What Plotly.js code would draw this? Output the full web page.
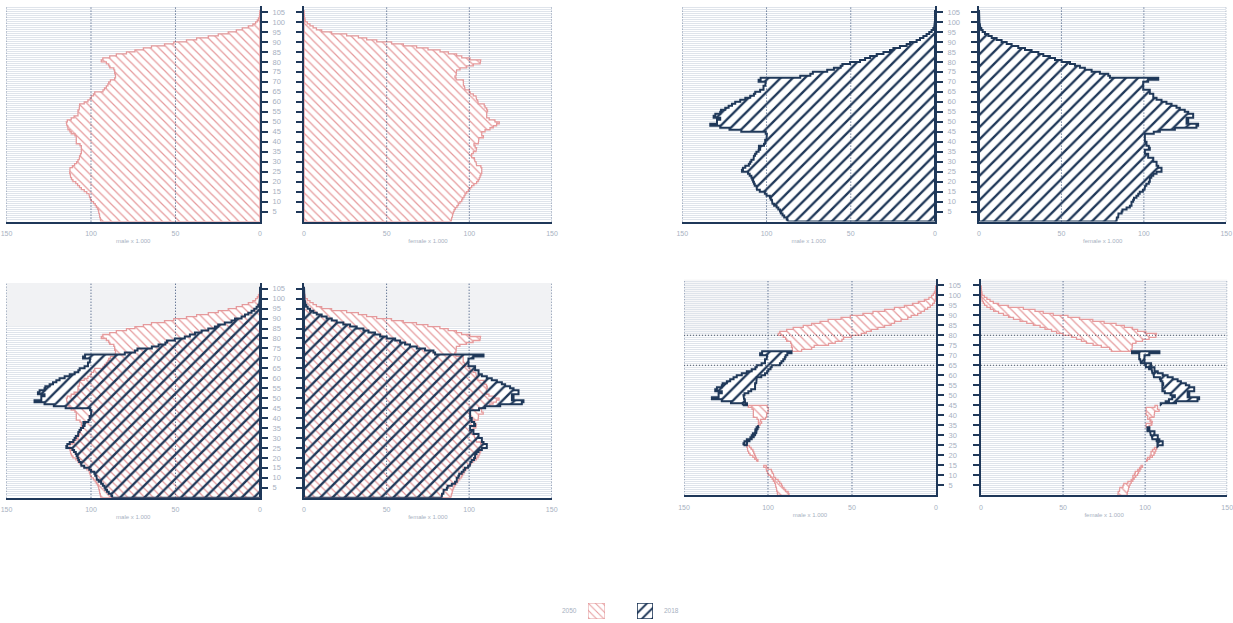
<!DOCTYPE html>
<html><head><meta charset="utf-8">
<script src="https://cdn.plot.ly/plotly-3.0.1.min.js"></script>
<style>html,body{margin:0;padding:0;background:#fff;}#chart{width:1233px;height:623px;}</style>
</head><body><div id="chart"></div>
<script>
// ---- data (population x 1.000 by single year of age) ----
const ages = Array.from({length: 106}, (_, i) => i); // ages 0..105
const male2050 = [94.3,94.5,94.8,95.0,95.3,95.6,96.0,96.8,97.5,98.5,99.8,100.3,100.8,101.2,102.5,104.0,105.7,106.8,107.9,109.0,
  110.7,111.5,112.0,112.3,112.6,112.6,112.4,111.0,109.7,108.5,107.7,107.0,106.7,106.2,105.7,105.7,105.5,105.7,106.5,108.7,
  108.7,108.5,108.7,109.5,111.7,112.5,113.6,113.8,114.2,114.6,114.0,111.7,110.0,107.7,107.7,107.7,107.0,106.7,106.7,104.0,
  101.8,100.5,99.8,98.5,97.8,92.9,92.0,90.9,90.0,89.5,88.5,86.0,85.5,85.5,86.0,86.0,86.5,88.9,89.5,90.9,
  93.9,93.0,88.9,85.0,79.0,74.0,69.0,64.2,56.5,51.0,43.5,37.5,30.6,24.7,18.8,14.0,10.5,6.9,4.2,2.6,
  1.6,0.9,0.4,0.2,0.1,0];
const female2050 = [89.0,89.3,89.6,90.0,90.3,90.8,91.5,92.5,93.3,94.3,95.4,96.0,96.8,97.4,98.4,99.4,100.4,101.4,102.8,104.4,
  105.4,106.0,106.5,107.0,107.5,107.5,107.5,107.0,104.4,104.0,103.4,103.0,101.4,101.4,102.4,104.0,104.4,103.5,102.8,105.4,
  105.4,105.8,108.5,107.5,107.5,109.5,112.5,114.5,116.5,118.1,115.5,112.0,110.5,110.5,110.5,111.0,110.5,109.5,109.0,105.4,
  105.0,104.4,104.0,102.4,100.5,100.0,97.4,97.0,96.4,96.4,96.4,92.0,91.3,92.0,92.0,92.3,94.4,98.4,102.4,106.5,
  106.9,100.4,95.4,92.3,87.3,82.3,75.0,68.1,60.1,53.0,44.0,37.9,32.9,25.8,16.7,10.7,7.5,5.5,3.6,2.0,
  0.8,0.5,0.3,0.2,0.1,0];
const male2018 = [87.5,88.0,89.5,90.5,91.5,92.0,93.0,94.0,95.5,96.5,96.8,97.5,98.0,100.0,101.0,104.0,105.7,106.0,107.0,107.5,
  108.0,108.5,109.0,110.0,111.0,114.6,114.0,112.6,110.5,109.7,109.0,107.7,107.5,106.8,106.0,104.7,103.8,104.5,101.5,100.8,
  100.8,100.0,99.8,99.8,100.5,115.0,122.0,127.5,133.4,129.4,129.4,127.5,131.4,130.4,127.5,127.0,124.5,122.5,120.5,118.6,
  115.6,112.6,109.7,107.5,106.7,103.8,101.8,101.8,100.8,100.5,104.7,103.5,80.0,74.0,72.5,64.0,60.0,56.0,55.0,50.4,
  44.5,41.5,38.5,34.6,30.6,26.7,24.7,20.8,16.8,14.8,10.9,8.9,6.9,5.0,3.4,2.0,1.0,0.5,0.3,0.1,
  0,0,0,0,0,0];
const female2018 = [83.4,83.6,84.4,84.6,86.5,87.0,89.5,91.5,92.5,92.5,93.5,94.0,95.5,96.6,97.5,99.4,100.4,100.8,101.5,103.0,
  103.6,103.6,104.5,105.7,107.7,110.7,110.7,108.7,107.7,107.7,105.7,105.7,102.6,102.6,100.6,100.6,103.6,103.0,101.6,101.6,
  100.6,100.6,100.6,100.6,106.0,109.7,118.8,131.9,132.9,125.9,126.9,125.9,129.9,129.9,126.9,124.8,121.8,119.8,116.8,113.7,
  110.7,107.7,105.7,105.7,103.6,103.6,99.6,99.6,99.6,99.6,102.6,108.7,79.4,78.4,73.3,68.3,64.2,61.2,58.2,55.2,
  50.1,46.1,43.0,39.0,36.0,31.9,27.9,23.8,19.8,16.8,13.7,10.7,7.7,5.7,3.6,2.2,1.4,0.8,0.5,0.3,
  0.15,0.1,0.05,0,0,0];
const ageTickVals = [5,10,15,20,25,30,35,40,45,50,55,60,65,70,75,80,85,90,95,100,105];
const ageTickText = ['5','10','15','20','25','30','35','40','45','50','55','60','65','70','75','80','85','90','95','100','105'];
const valueTicks = [0,50,100,150];
const valueLabels = ['0','50','100','150'];
const yearLabels = ['2050','2018'];
const sideTitles = {male:'male x 1.000', female:'female x 1.000'};
const ageRange = [0, 108];
const valueRange = [0, 150];
const shadedFromAge = 86;       // light band (overlay panels)
const markedAges = [80, 65];    // dotted reference ages (difference panels)

// ---- styles ----
const PINK = '#e59a9c', NAVY = '#1f3859', LAB = '#a7b1c1', STRIPE = '#dfe4eb';
const FONT = 'Liberation Sans, Arial, sans-serif';
const hatch = {
  '2050': {shape:'\\', fgcolor:PINK, size:6, solidity:0.2, line:PINK, lw:1.3},
  '2018': {shape:'/', fgcolor:NAVY, size:8.6, solidity:0.27, line:NAVY, lw:2}
};

function pyramidPolygon(vals){
  const x=[], y=[];
  for(let a=0;a<vals.length;a++){ x.push(vals[a], vals[a]); y.push(ages[a], ages[a]+1); }
  x.push(0, 0, vals[0]); y.push(ages[ages.length-1]+1, ages[0], ages[0]);
  return {x, y};
}
function gapPolygons(hi, lo){
  const x=[], y=[]; const n=hi.length; let a=0;
  while(a<n){
    if(hi[a]>lo[a]){
      let b=a; while(b+1<n && hi[b+1]>lo[b+1]) b++;
      for(let k=a;k<=b;k++){ x.push(hi[k],hi[k]); y.push(ages[k],ages[k]+1); }
      for(let k=b;k>=a;k--){ x.push(lo[k],lo[k]); y.push(ages[k]+1,ages[k]); }
      x.push(hi[a], null); y.push(ages[a], null);
      a=b+1;
    } else a++;
  }
  return {x, y};
}
function whiteTrace(poly, xa, ya){
  return {type:'scatter', mode:'none', x:poly.x, y:poly.y, fill:'toself', fillcolor:'#ffffff',
    xaxis:xa, yaxis:ya, hoverinfo:'skip', showlegend:false};
}
function hatchTrace(poly, year, xa, ya, bg){
  const h = hatch[year];
  return {type:'scatter', mode:'lines', x:poly.x, y:poly.y, fill:'toself', fillcolor:'rgba(0,0,0,0)',
    fillpattern:{shape:h.shape, fgcolor:h.fgcolor, bgcolor:bg, size:h.size, solidity:h.solidity, fillmode:'replace'},
    line:{color:h.line, width:h.lw, shape:'linear'}, connectgaps:false,
    xaxis:xa, yaxis:ya, name:year, hoverinfo:'skip', showlegend:false};
}

const data = {male:{'2050':male2050,'2018':male2018}, female:{'2050':female2050,'2018':female2018}};

const panels = [
  {kind:'2050', side:'male',   n:1, xd:[0.00527,0.21087], yd:[0.6443,0.9904]},
  {kind:'2050', side:'female', n:2, xd:[0.24656,0.44769], yd:[0.6443,0.9904]},
  {kind:'2018', side:'male',   n:3, xd:[0.55337,0.75831], yd:[0.6443,0.9904]},
  {kind:'2018', side:'female', n:4, xd:[0.79400,0.99457], yd:[0.6443,0.9904]},
  {kind:'overlay', side:'male',   n:5, xd:[0.00527,0.21087], yd:[0.2011,0.5461]},
  {kind:'overlay', side:'female', n:6, xd:[0.24656,0.44745], yd:[0.2011,0.5461]},
  {kind:'diff', side:'male',   n:7, xd:[0.55474,0.75912], yd:[0.2050,0.5517]},
  {kind:'diff', side:'female', n:8, xd:[0.79562,0.99530], yd:[0.2050,0.5517]}
];

const traces = [];
const layout = {
  width:1233, height:623, margin:{l:0,r:0,t:0,b:0},
  paper_bgcolor:'#ffffff', plot_bgcolor:'#ffffff', showlegend:false,
  font:{family:FONT, color:LAB, size:7},
  shapes:[], annotations:[]
};

panels.forEach(p => {
  const sfx = p.n===1 ? '' : String(p.n);
  const xa = 'x'+sfx, ya = 'y'+sfx;
  const d = data[p.side];
  if(p.kind==='2050' || p.kind==='2018'){
    const poly = pyramidPolygon(d[p.kind]);
    traces.push(whiteTrace(poly, xa, ya));
    traces.push(hatchTrace(poly, p.kind, xa, ya, 'rgba(0,0,0,0)'));
  } else if(p.kind==='overlay'){
    // flat light band over the oldest ages (covers the row stripes)
    traces.push({type:'scatter', mode:'none', x:[valueRange[0],valueRange[1],valueRange[1],valueRange[0]],
      y:[shadedFromAge,shadedFromAge,ageRange[1],ageRange[1]], fill:'toself', fillcolor:'#f1f2f4',
      xaxis:xa, yaxis:ya, hoverinfo:'skip', showlegend:false});
    const p50 = pyramidPolygon(d['2050']), p18 = pyramidPolygon(d['2018']);
    traces.push(whiteTrace(p50, xa, ya), whiteTrace(p18, xa, ya));
    traces.push(hatchTrace(p50, '2050', xa, ya, 'rgba(0,0,0,0)'));
    traces.push(hatchTrace(p18, '2018', xa, ya, 'rgba(0,0,0,0)'));
  } else {
    traces.push(hatchTrace(gapPolygons(d['2050'], d['2018']), '2050', xa, ya, '#ffffff'));
    traces.push(hatchTrace(gapPolygons(d['2018'], d['2050']), '2018', xa, ya, '#ffffff'));
  }
  const male = p.side==='male';
  layout['xaxis'+sfx] = {
    domain:p.xd, anchor:ya, range: male ? [valueRange[1],valueRange[0]] : valueRange.slice(),
    tickmode:'array', tickvals:valueTicks, ticktext:valueLabels, ticks:'', ticklabeloverflow:'allow',
    showgrid:false, zeroline:false, showline:true, linecolor:NAVY, linewidth:2,
    tickfont:{size:7, color:LAB, family:FONT}, ticklabelstandoff:4,
    title:{text:sideTitles[p.side], font:{size:6, color:LAB, family:FONT}, standoff:3},
    fixedrange:true
  };
  layout['yaxis'+sfx] = {
    domain:p.yd, anchor:xa, range:ageRange.slice(), side: male ? 'right' : 'left',
    tickmode:'array', tickvals:ageTickVals, ticktext:ageTickText,
    ticks:'outside', ticklen:6, tickwidth:2, tickcolor:NAVY,
    showticklabels: male, tickfont:{size:7.5, color:LAB, family:FONT}, ticklabelstandoff:3,
    showline:true, linecolor:NAVY, linewidth:2, zeroline:false,
    showgrid:true, gridcolor:STRIPE, gridwidth:1,
    minor:{dtick:1, showgrid:true, gridcolor:STRIPE, gridwidth:1, ticks:''},
    fixedrange:true
  };
  // dotted vertical reference lines (drawn above the hatching)
  valueTicks.slice(1).forEach(v => layout.shapes.push({type:'line', layer:'above', xref:xa, yref:ya+' domain',
    x0:v, x1:v, y0:0, y1:1, line:{color:'#2d4670', width:1, dash:'1px,2px'}}));
  if(p.kind==='diff'){
    layout.shapes.push({type:'rect', layer:'below', xref:xa+' domain', yref:ya, x0:0, x1:1, y0:markedAges[0], y1:ageRange[1],
      fillcolor:'rgba(190,196,204,0.13)', line:{width:0}});
    markedAges.forEach(v => layout.shapes.push({type:'line', layer:'above', xref:xa+' domain', yref:ya,
      x0:0, x1:1, y0:v, y1:v, line:{color:'#4a5566', width:1, dash:'1px,2px'}}));
  }
});

// legend swatches (small hatched squares) + labels
const legendBoxes = [
  {year:yearLabels[0], n:9,  xd:[0.47689,0.49067]},
  {year:yearLabels[1], n:10, xd:[0.51663,0.52960]}
];
legendBoxes.forEach(b => {
  const h = hatch[b.year];
  traces.push({type:'bar', x:[b.year], y:[1], width:[1], xaxis:'x'+b.n, yaxis:'y'+b.n,
    marker:{color:'rgba(0,0,0,0)', pattern:{shape:h.shape, fgcolor:h.fgcolor, bgcolor:'rgba(0,0,0,0)', size:h.size*0.85, solidity:h.solidity},
      line:{color:h.line, width:h.lw*0.8}}, hoverinfo:'skip', showlegend:false});
  layout['xaxis'+b.n] = {domain:b.xd, anchor:'y'+b.n, type:'category', range:[-0.5,0.5], visible:false, fixedrange:true};
  layout['yaxis'+b.n] = {domain:[0.00642,0.03210], anchor:'x'+b.n, range:[0,1], visible:false, fixedrange:true};
});
layout.annotations.push(
  {xref:'paper', yref:'paper', x:0.46959, y:0.0193, xanchor:'right', yanchor:'middle', text:yearLabels[0], showarrow:false, font:{size:6.5, color:LAB, family:FONT}},
  {xref:'paper', yref:'paper', x:0.5369, y:0.0193, xanchor:'left', yanchor:'middle', text:yearLabels[1], showarrow:false, font:{size:6.5, color:LAB, family:FONT}}
);

Plotly.newPlot('chart', traces, layout, {staticPlot:true, displayModeBar:false});
</script>
</body></html>
